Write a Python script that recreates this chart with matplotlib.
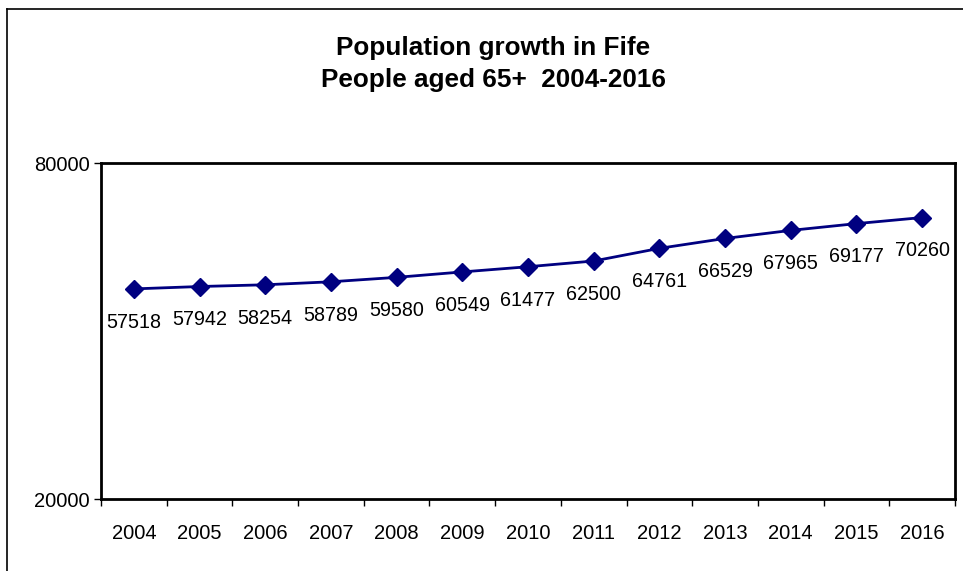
import matplotlib
matplotlib.use("Agg")
import matplotlib.pyplot as plt
import numpy as np
from matplotlib.lines import Line2D

plt.rcParams["font.family"] = ["Liberation Sans", "DejaVu Sans"]

years = ["2004", "2005", "2006", "2007", "2008", "2009", "2010",
         "2011", "2012", "2013", "2014", "2015", "2016"]
population = [57518, 57942, 58254, 58789, 59580, 60549, 61477,
              62500, 64761, 66529, 67965, 69177, 70260]
y_ticks = [20000, 80000]

fig = plt.figure(figsize=(9.63, 5.71), dpi=100)
ax = fig.add_axes([101 / 963, 1 - 499 / 571, (955 - 101) / 963, (499 - 163) / 571])

x = np.arange(len(years))
ax.plot(x, population, color="#000080", linewidth=2, marker="D", markersize=9.5)

for xi, val in zip(x, population):
    ax.annotate(f"{val}", (xi, val), xytext=(0, -24), textcoords="offset points",
                ha="center", va="center", fontsize=14.2)

ax.set_xlim(-0.5, len(years) - 0.5)
ax.set_ylim(20000, 80000)
ax.set_yticks(y_ticks)
ax.set_yticklabels([str(v) for v in y_ticks], fontsize=14.5)
ax.set_xticks(x)
ax.set_xticklabels(years, fontsize=14.5)
ax.set_xticks(np.arange(-0.5, len(years)), minor=True)
ax.tick_params(axis="x", which="major", length=0, pad=18)
ax.tick_params(axis="x", which="minor", length=5, width=1)
ax.tick_params(axis="y", length=5, width=1, pad=3)
for sp in ax.spines.values():
    sp.set_linewidth(2)

fig.text(493 / 963, 1 - 64 / 571, "Population growth in Fife\nPeople aged 65+  2004-2016",
         ha="center", va="center", fontsize=18.8, fontweight="bold", linespacing=1.45)

# outer chart border (top and left edges visible)
fig.add_artist(Line2D([7 / 963, 7 / 963], [0, 1 - 8.5 / 571], transform=fig.transFigure,
                      color="black", linewidth=1.2))
fig.add_artist(Line2D([7 / 963, 1], [1 - 8.5 / 571, 1 - 8.5 / 571], transform=fig.transFigure,
                      color="black", linewidth=1.2))

fig.savefig("out.png", dpi=100)
